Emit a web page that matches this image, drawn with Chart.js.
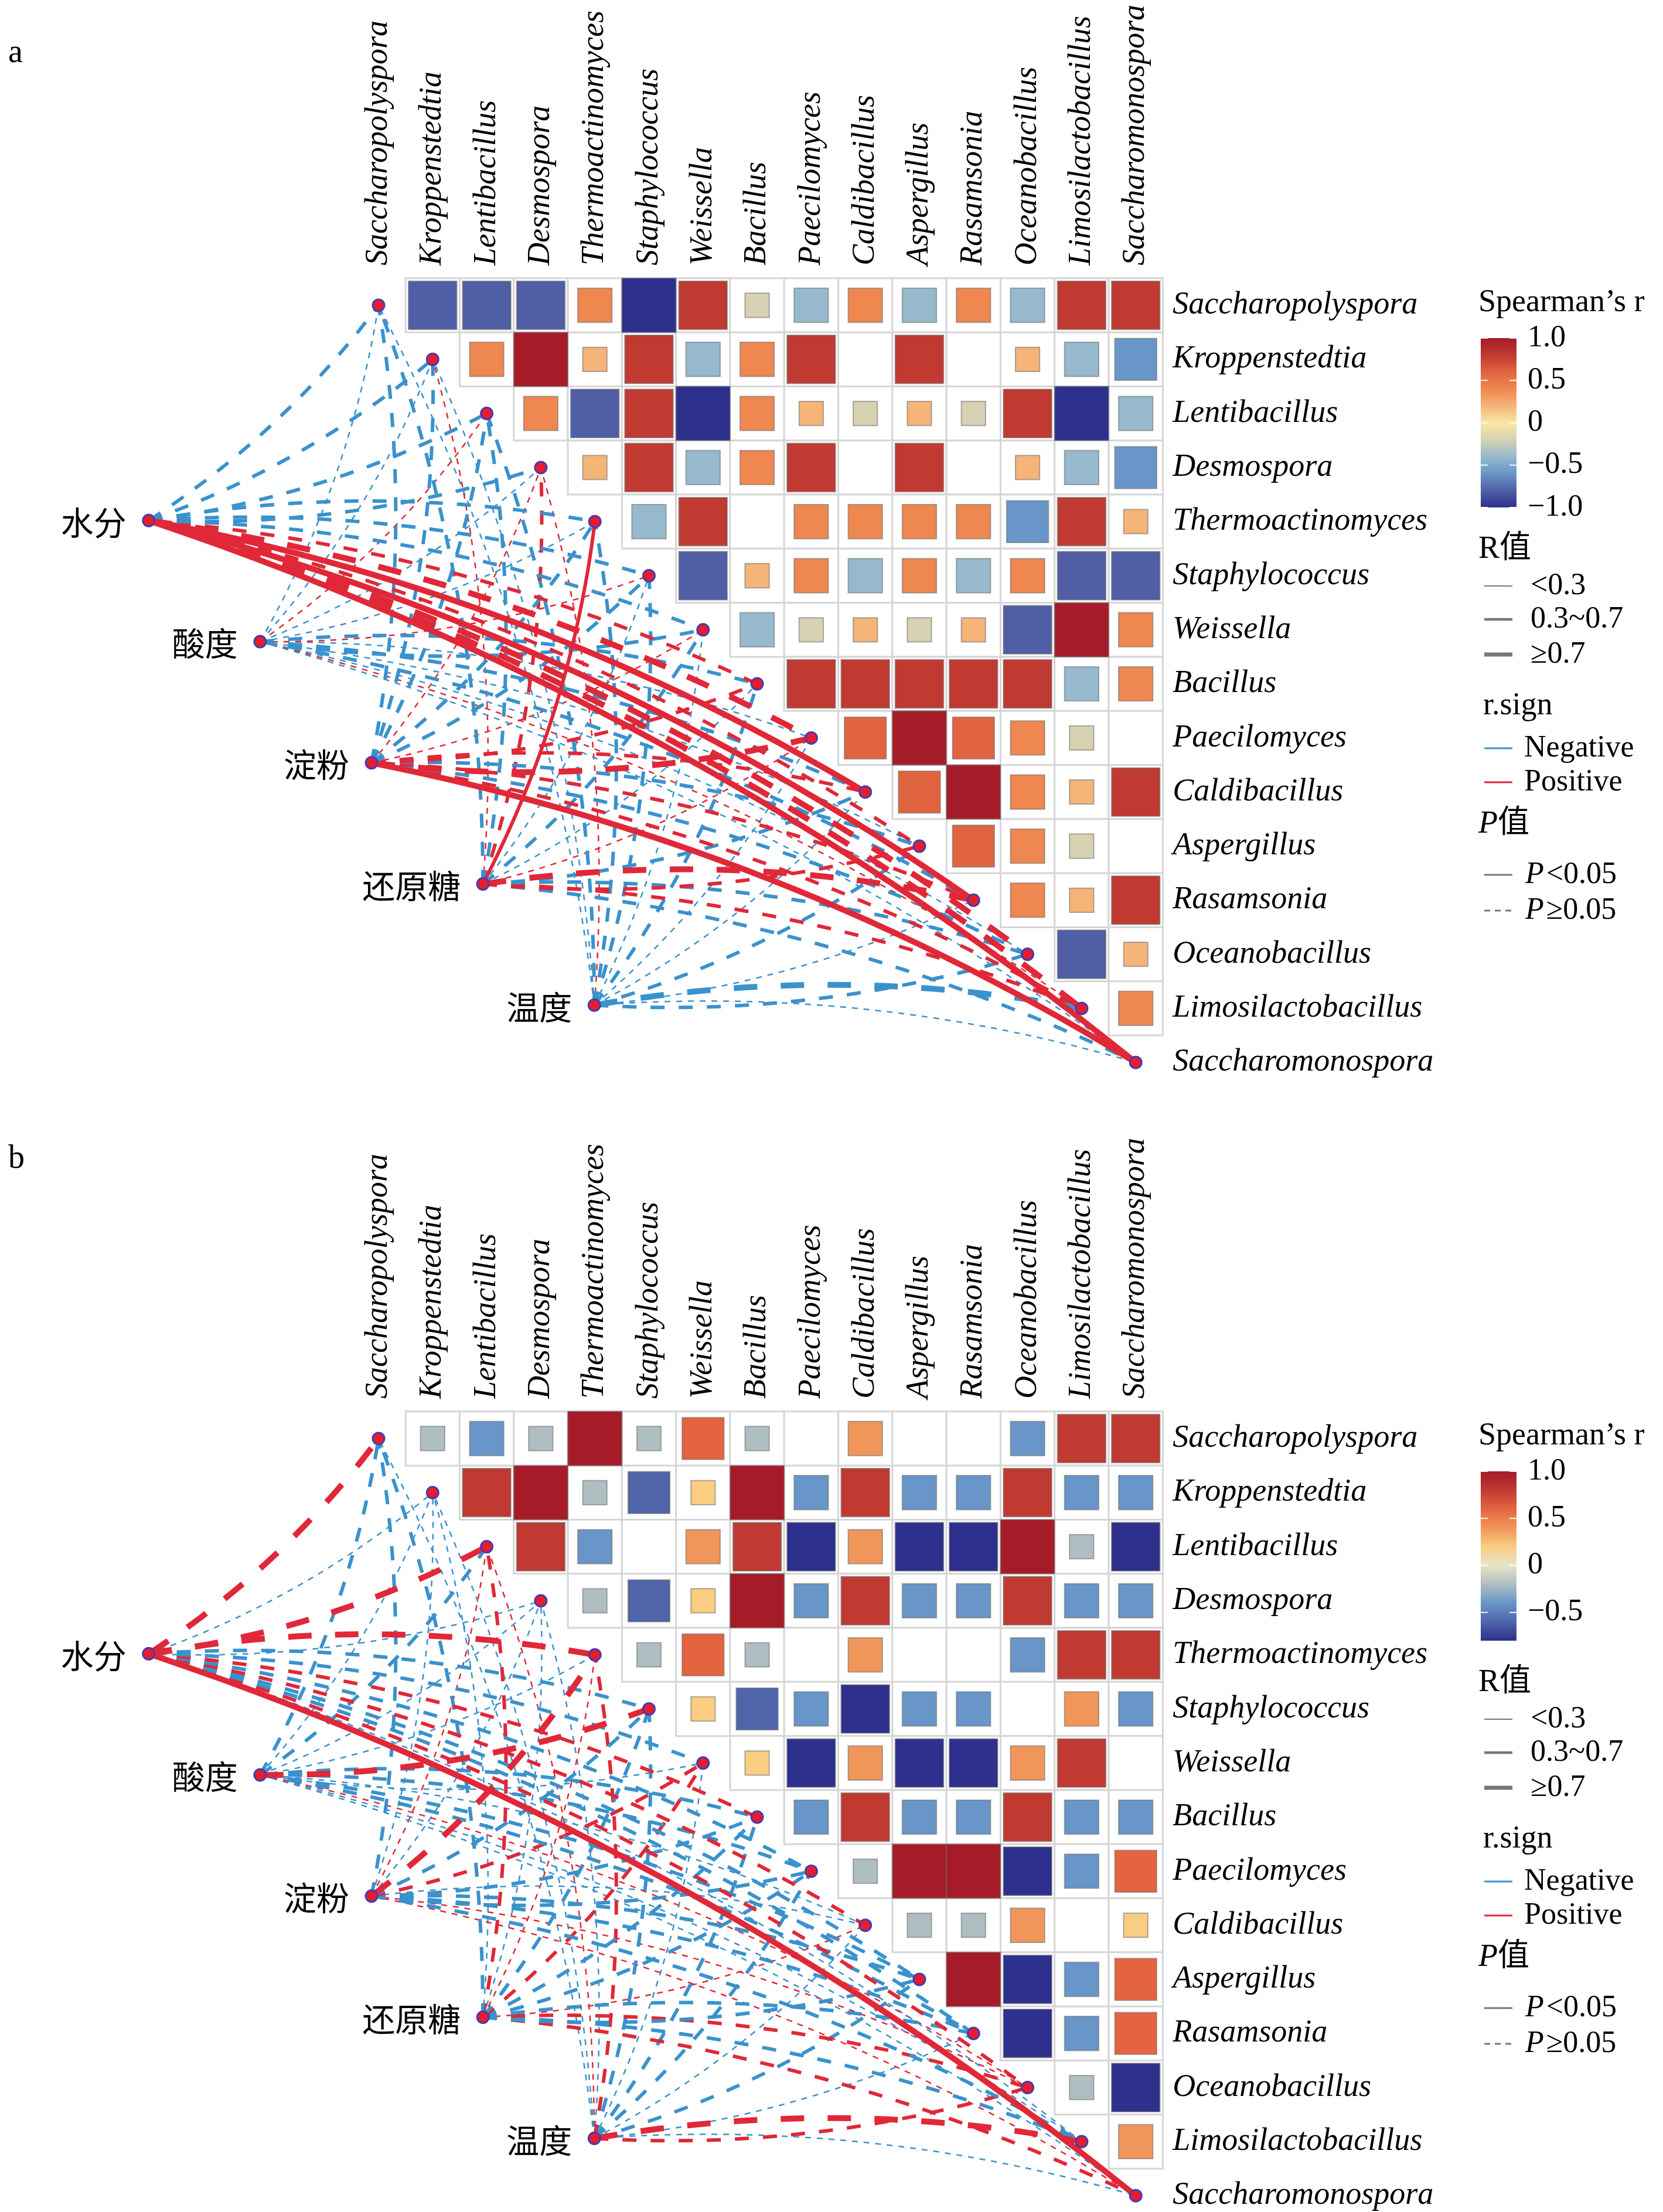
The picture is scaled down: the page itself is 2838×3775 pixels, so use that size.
<!DOCTYPE html>
<html>
<head>
<meta charset="utf-8">
<script src="https://cdn.jsdelivr.net/npm/chart.js@4.4.0/dist/chart.umd.min.js"></script>
<style>
  html, body { margin: 0; padding: 0; background: #fff; }
  canvas { display: block; }
</style>
</head>
<body>
<canvas id="panel-a" width="2838" height="1934"></canvas>
<canvas id="panel-b" width="2838" height="1841"></canvas>
<script>
// species, same order on both axes of the heatmap
var species = ['Saccharopolyspora', 'Kroppenstedtia', 'Lentibacillus', 'Desmospora', 'Thermoactinomyces',
    'Staphylococcus', 'Weissella', 'Bacillus', 'Paecilomyces', 'Caldibacillus', 'Aspergillus',
    'Rasamsonia', 'Oceanobacillus', 'Limosilactobacillus', 'Saccharomonospora'];
// environmental factors (left nodes)
var envFactors = ['水分', '酸度', '淀粉', '还原糖', '温度'];

// Spearman r, upper triangle: row i holds the columns i+1 .. 15
var corrA = [
    [-0.8, -0.8, -0.8, 0.4, -1.0, 0.8, -0.2, -0.4, 0.4, -0.4, 0.4, -0.4, 0.8, 0.8],
    [0.4, 1.0, 0.2, 0.8, -0.4, 0.4, 0.8, 0, 0.8, 0, 0.2, -0.4, -0.6],
    [0.4, -0.8, 0.8, -1.0, 0.4, 0.2, -0.2, 0.2, -0.2, 0.8, -1.0, -0.4],
    [0.2, 0.8, -0.4, 0.4, 0.8, 0, 0.8, 0, 0.2, -0.4, -0.6],
    [-0.4, 0.8, 0, 0.4, 0.4, 0.4, 0.4, -0.6, 0.8, 0.2],
    [-0.8, 0.2, 0.4, -0.4, 0.4, -0.4, 0.4, -0.8, -0.8],
    [-0.4, -0.2, 0.2, -0.2, 0.2, -0.8, 1.0, 0.4],
    [0.8, 0.8, 0.8, 0.8, 0.8, -0.4, 0.4],
    [0.6, 1.0, 0.6, 0.4, -0.2, 0],
    [0.6, 1.0, 0.4, 0.2, 0.8],
    [0.6, 0.4, -0.2, 0],
    [0.4, 0.2, 0.8],
    [-0.8, 0.2],
    [0.4]
];
var corrB = [
    [-0.2, -0.4, -0.2, 1.0, -0.2, 0.6, -0.2, 0, 0.4, 0, 0, -0.4, 0.8, 0.8],
    [0.8, 1.0, -0.2, -0.6, 0.2, 1.0, -0.4, 0.8, -0.4, -0.4, 0.8, -0.4, -0.4],
    [0.8, -0.4, 0, 0.4, 0.8, -0.8, 0.4, -0.8, -0.8, 1.0, -0.2, -0.8],
    [-0.2, -0.6, 0.2, 1.0, -0.4, 0.8, -0.4, -0.4, 0.8, -0.4, -0.4],
    [-0.2, 0.6, -0.2, 0, 0.4, 0, 0, -0.4, 0.8, 0.8],
    [0.2, -0.6, -0.4, -0.8, -0.4, -0.4, 0, 0.4, -0.4],
    [0.2, -0.8, 0.4, -0.8, -0.8, 0.4, 0.8, 0],
    [-0.4, 0.8, -0.4, -0.4, 0.8, -0.4, -0.4],
    [-0.2, 1.0, 1.0, -0.8, -0.4, 0.6],
    [-0.2, -0.2, 0.4, 0, 0.2],
    [1.0, -0.8, -0.4, 0.6],
    [-0.8, -0.4, 0.6],
    [-0.2, -0.8],
    [0.4]
];

// Mantel r (signed) and p, one row per environmental factor, one column per species
var mantelRA = [
    [-0.5, -0.5, -0.5, -0.5, -0.5, -0.5, -0.5, 0.5, 0.8, 0.8, 0.5, 0.8, 0.8, 0.8, 0.8],
    [-0.2, -0.2, 0.2, -0.2, -0.2, 0.2, -0.5, -0.5, -0.2, -0.5, -0.2, -0.5, -0.2, 0.2, -0.2],
    [-0.5, -0.5, -0.5, 0.2, -0.5, -0.5, 0.2, 0.5, 0.8, 0.5, -0.5, 0.5, -0.5, 0.5, 0.8],
    [-0.5, 0.2, -0.5, 0.5, 0.5, -0.2, -0.5, -0.2, 0.2, -0.5, 0.5, 0.8, -0.5, 0.5, -0.5],
    [-0.2, -0.2, -0.5, 0.2, -0.5, -0.5, -0.2, -0.5, -0.2, -0.2, -0.5, -0.2, -0.5, -0.8, -0.2]
];
var mantelPA = [
    [0.2, 0.2, 0.2, 0.2, 0.2, 0.2, 0.2, 0.2, 0.2, 0.01, 0.2, 0.01, 0.2, 0.2, 0.01],
    [0.2, 0.2, 0.2, 0.2, 0.2, 0.2, 0.2, 0.2, 0.2, 0.2, 0.2, 0.2, 0.2, 0.2, 0.2],
    [0.2, 0.2, 0.2, 0.2, 0.2, 0.2, 0.2, 0.2, 0.2, 0.2, 0.2, 0.2, 0.2, 0.2, 0.01],
    [0.2, 0.2, 0.2, 0.2, 0.01, 0.2, 0.2, 0.2, 0.2, 0.2, 0.2, 0.2, 0.2, 0.2, 0.2],
    [0.2, 0.2, 0.2, 0.2, 0.2, 0.2, 0.2, 0.2, 0.2, 0.2, 0.2, 0.2, 0.2, 0.2, 0.2]
];
var mantelRB = [
    [0.8, -0.2, 0.8, -0.2, 0.8, -0.5, -0.5, 0.5, -0.5, 0.5, -0.5, -0.5, 0.5, -0.2, 0.8],
    [-0.5, -0.2, -0.5, -0.2, -0.2, 0.8, -0.2, -0.5, -0.5, -0.2, -0.5, -0.5, 0.2, -0.2, -0.2],
    [-0.5, -0.2, 0.2, -0.2, 0.8, -0.5, 0.5, -0.5, -0.5, -0.2, -0.5, -0.5, 0.2, -0.5, 0.2],
    [-0.5, -0.2, 0.5, -0.2, 0.2, -0.5, 0.5, -0.5, -0.5, 0.2, -0.5, -0.5, 0.5, -0.5, 0.5],
    [-0.2, -0.2, 0.2, -0.2, 0.5, -0.5, -0.2, -0.5, -0.5, -0.2, -0.5, -0.2, 0.5, 0.8, -0.2]
];
var mantelPB = [
    [0.2, 0.2, 0.2, 0.2, 0.2, 0.2, 0.2, 0.2, 0.2, 0.2, 0.2, 0.2, 0.2, 0.2, 0.01],
    [0.2, 0.2, 0.2, 0.2, 0.2, 0.2, 0.2, 0.2, 0.2, 0.2, 0.2, 0.2, 0.2, 0.2, 0.2],
    [0.2, 0.2, 0.2, 0.2, 0.2, 0.2, 0.2, 0.2, 0.2, 0.2, 0.2, 0.2, 0.2, 0.2, 0.2],
    [0.2, 0.2, 0.2, 0.2, 0.2, 0.2, 0.2, 0.2, 0.2, 0.2, 0.2, 0.2, 0.2, 0.2, 0.2],
    [0.2, 0.2, 0.2, 0.2, 0.2, 0.2, 0.2, 0.2, 0.2, 0.2, 0.2, 0.2, 0.2, 0.2, 0.2]
];

// colour bar ticks
var tickValuesA = [1.0, 0.5, 0, -0.5, -1.0];
var tickLabelsA = ['1.0', '0.5', '0', '\u22120.5', '\u22121.0'];
var tickValuesB = [1.0, 0.5, 0, -0.5];
var tickLabelsB = ['1.0', '0.5', '0', '\u22120.5'];
var rangeA = [-1.0, 1.0];
var rangeB = [-0.8, 1.0];

// palette stops (r -> rgb)
var paletteA = [
    [1.0, [165, 28, 40]], [0.8, [192, 58, 50]], [0.6, [225, 100, 65]], [0.4, [238, 135, 80]],
    [0.2, [245, 180, 120]], [0.0, [250, 230, 165]], [-0.2, [214, 210, 178]], [-0.4, [150, 185, 205]],
    [-0.6, [105, 150, 200]], [-0.8, [80, 95, 165]], [-1.0, [45, 48, 140]]
];
var paletteB = [
    [1.0, [165, 28, 40]], [0.8, [192, 58, 50]], [0.6, [228, 100, 65]], [0.4, [240, 150, 90]],
    [0.2, [250, 205, 130]], [0.0, [232, 228, 200]], [-0.2, [175, 190, 192]], [-0.4, [105, 150, 200]],
    [-0.6, [80, 100, 170]], [-0.8, [45, 48, 140]]
];

// layout, in canvas pixels
var CELL = 92.3, COL1 = 646, ROW1 = 521;
var RED = 'rgb(224,40,56)', BLUE = 'rgb(58,146,204)';
var SERIF = '"Liberation Serif", "Noto Sans CJK SC", serif';

function rgb(c) {
    return 'rgb(' + c[0] + ',' + c[1] + ',' + c[2] + ')';
}

// linear interpolation between palette stops
function colourFor(r, palette) {
    if (r >= palette[0][0]) return rgb(palette[0][1]);
    for (var k = 0; k < palette.length - 1; k++) {
        var hi = palette[k], lo = palette[k + 1];
        if (r <= hi[0] && r >= lo[0]) {
            var t = (hi[0] - r) / (hi[0] - lo[0]);
            return rgb([0, 1, 2].map(function(c) {
                return Math.round(hi[1][c] + (lo[1][c] - hi[1][c]) * t);
            }));
        }
    }
    return rgb(palette[palette.length - 1][1]);
}

// position of the environmental nodes in grid units
function envPos(k) {
    return { x: -3.25 + 2.06 * k, y: 4.98 + 2.24 * k };
}

// curved link: quadratic bezier, bowing toward the heatmap
function curvePoints(x0, y0, x1, y1) {
    var dx = x1 - x0, dy = y1 - y0;
    var len = Math.sqrt(dx * dx + dy * dy);
    var nx, ny;
    if (dy >= 0) { nx = dy / len; ny = -dx / len; } else { nx = -dy / len; ny = dx / len; }
    var bend = 0.09 * len;
    var cx = (x0 + x1) / 2 + nx * bend, cy = (y0 + y1) / 2 + ny * bend;
    var pts = [];
    for (var s = 0; s <= 30; s++) {
        var t = s / 30, u = 1 - t;
        pts.push({ x: u * u * x0 + 2 * u * t * cx + t * t * x1, y: u * u * y0 + 2 * u * t * cy + t * t * y1 });
    }
    return pts;
}

function widthFor(R) {
    var a = Math.abs(R);
    return a < 0.3 ? 2.5 : (a < 0.7 ? 6 : 10);
}

function buildPanel(canvasId, corr, mantelR, mantelP, palette, range, tickValues, tickLabels, letter, letterY) {
    var canvas = document.getElementById(canvasId);
    var W = canvas.width, H = canvas.height;
    var xMin = 1 - COL1 / CELL, yMin = 1 - ROW1 / CELL;

    // heatmap cells and squares
    var cells = [], squares = [];
    corr.forEach(function(row, i) {
        row.forEach(function(r, k) {
            var j = i + 1 + k;
            cells.push({ x: j + 1, y: i + 1 });
            if (r !== 0) squares.push({ x: j + 1, y: i + 1, r: r });
        });
    });

    // links from the environmental factors to each species
    var links = [];
    mantelR.forEach(function(row, k) {
        var p0 = envPos(k);
        row.forEach(function(R, s) {
            var w = widthFor(R);
            var solid = mantelP[k][s] < 0.05;
            links.push({
                pts: curvePoints(p0.x, p0.y, s + 1, s + 1),
                color: R < 0 ? BLUE : RED,
                width: w,
                solid: solid,
                dash: solid ? [] : [4 * w, 4 * w]
            });
        });
    });
    links.sort(function(a, b) { return (b.width - a.width) || (b.solid - a.solid); });

    var datasets = [];
    datasets.push({
        data: species.map(function(s, i) { return { x: i + 1, y: i + 1 }; }),
        pointStyle: 'circle', pointRadius: 10, pointBackgroundColor: 'rgb(232,28,44)',
        pointBorderColor: 'rgb(70,60,175)', pointBorderWidth: 3, order: 1
    });
    datasets.push({
        data: envFactors.map(function(e, k) { return envPos(k); }),
        pointStyle: 'circle', pointRadius: 10, pointBackgroundColor: 'rgb(232,28,44)',
        pointBorderColor: 'rgb(70,60,175)', pointBorderWidth: 3, order: 1
    });
    links.forEach(function(l) {
        datasets.push({
            data: l.pts, showLine: true, pointRadius: 0, borderColor: l.color,
            borderWidth: l.width, borderDash: l.dash, borderCapStyle: 'butt', order: 20
        });
    });
    datasets.push({
        data: squares, pointStyle: 'rect',
        pointRadius: function(ctx) { return Math.sqrt(Math.abs(ctx.raw.r)) * CELL / Math.SQRT2; },
        pointBackgroundColor: function(ctx) { return colourFor(ctx.raw.r, palette); },
        pointBorderColor: 'rgba(110,110,110,0.55)', pointBorderWidth: 2, order: 30
    });
    datasets.push({
        data: cells, pointStyle: 'rect', pointRadius: CELL / Math.SQRT2,
        pointBackgroundColor: '#ffffff', pointBorderColor: 'rgb(214,214,214)', pointBorderWidth: 3, order: 40
    });

    // texts and legend
    var labelsPlugin = {
        id: 'labels',
        afterDraw: function(chart) {
            var ctx = chart.ctx, xs = chart.scales.x, ys = chart.scales.y;
            ctx.save();
            ctx.fillStyle = '#000';

            // panel letter
            ctx.font = '56px ' + SERIF;
            ctx.textAlign = 'left';
            ctx.textBaseline = 'middle';
            ctx.fillText(letter, 14, letterY);

            // column labels
            ctx.font = 'italic 54px ' + SERIF;
            species.forEach(function(s, i) {
                ctx.save();
                ctx.translate(xs.getPixelForValue(i + 1), ys.getPixelForValue(1) - 68);
                ctx.rotate(-Math.PI / 2);
                ctx.textAlign = 'left';
                ctx.textBaseline = 'middle';
                ctx.fillText(s, 0, 0);
                ctx.restore();
            });
            // row labels
            var rowX = xs.getPixelForValue(species.length) + 63;
            species.forEach(function(s, i) {
                ctx.textAlign = 'left';
                ctx.textBaseline = 'middle';
                ctx.fillText(s, rowX, ys.getPixelForValue(i + 1));
            });
            // environmental factor labels
            ctx.font = '56px "Noto Sans CJK SC", sans-serif';
            ctx.textAlign = 'right';
            envFactors.forEach(function(e, k) {
                var p = envPos(k);
                ctx.fillText(e, xs.getPixelForValue(p.x) - 38, ys.getPixelForValue(p.y) + 3);
            });

            // legend: colour bar
            ctx.textAlign = 'left';
            ctx.font = '54px ' + SERIF;
            ctx.fillText('Spearman\u2019s r', 2523, 517);
            var barL = 2527, barR = 2588, barT = 577, barB = 866;
            var grad = ctx.createLinearGradient(0, barT, 0, barB);
            palette.forEach(function(stop) {
                var f = (range[1] - stop[0]) / (range[1] - range[0]);
                if (f >= 0 && f <= 1) grad.addColorStop(f, rgb(stop[1]));
            });
            ctx.fillStyle = grad;
            ctx.fillRect(barL, barT, barR - barL, barB - barT);
            ctx.fillStyle = '#000';
            ctx.font = '52px ' + SERIF;
            tickValues.forEach(function(t, i) {
                var y = barT + (range[1] - t) / (range[1] - range[0]) * (barB - barT);
                ctx.strokeStyle = 'rgba(255,255,255,0.9)';
                ctx.lineWidth = 2;
                ctx.beginPath();
                ctx.moveTo(barL, y); ctx.lineTo(barL + 12, y);
                ctx.moveTo(barR - 12, y); ctx.lineTo(barR, y);
                ctx.stroke();
                ctx.fillText(tickLabels[i], 2607, y);
            });

            // legend: R value widths
            ctx.font = '54px ' + SERIF;
            ctx.fillText('R值', 2523, 938);
            var rItems = [['<0.3', 1000, 2], ['0.3~0.7', 1057, 4.5], ['\u22650.7', 1117, 7]];
            ctx.font = '52px ' + SERIF;
            rItems.forEach(function(it) {
                ctx.strokeStyle = 'rgb(120,120,120)';
                ctx.lineWidth = it[2];
                ctx.beginPath(); ctx.moveTo(2533, it[1]); ctx.lineTo(2581, it[1]); ctx.stroke();
                ctx.fillText(it[0], 2612, it[1]);
            });

            // legend: sign
            ctx.font = '54px ' + SERIF;
            ctx.fillText('r.sign', 2531, 1205);
            ctx.font = '52px ' + SERIF;
            [['Negative', 1277, BLUE], ['Positive', 1335, RED]].forEach(function(it) {
                ctx.strokeStyle = it[2];
                ctx.lineWidth = 3;
                ctx.beginPath(); ctx.moveTo(2533, it[1]); ctx.lineTo(2581, it[1]); ctx.stroke();
                ctx.fillText(it[0], 2601, it[1]);
            });

            // legend: P value line type
            ctx.font = 'italic 54px ' + SERIF;
            ctx.fillText('P', 2523, 1407);
            var pw = ctx.measureText('P').width;
            ctx.font = '54px ' + SERIF;
            ctx.fillText('值', 2523 + pw, 1407);
            [['<0.05', 1493, []], ['\u22650.05', 1554, [10, 8]]].forEach(function(it) {
                ctx.strokeStyle = 'rgb(120,120,120)';
                ctx.lineWidth = 3;
                ctx.setLineDash(it[2]);
                ctx.beginPath(); ctx.moveTo(2533, it[1]); ctx.lineTo(2581, it[1]); ctx.stroke();
                ctx.setLineDash([]);
                ctx.font = 'italic 52px ' + SERIF;
                ctx.fillText('P', 2603, it[1]);
                var w = ctx.measureText('P').width;
                ctx.font = '52px ' + SERIF;
                ctx.fillText(it[0], 2603 + w + 4, it[1]);
            });
            ctx.restore();
        }
    };

    return new Chart(canvas.getContext('2d'), {
        type: 'scatter',
        data: { datasets: datasets },
        options: {
            responsive: false,
            animation: false,
            devicePixelRatio: 1,
            events: [],
            layout: { padding: 0, autoPadding: false },
            plugins: { legend: { display: false }, tooltip: { enabled: false } },
            scales: {
                x: { type: 'linear', min: xMin, max: xMin + W / CELL, display: false },
                y: { type: 'linear', reverse: true, min: yMin, max: yMin + H / CELL, display: false }
            }
        },
        plugins: [labelsPlugin]
    });
}

buildPanel('panel-a', corrA, mantelRA, mantelPA, paletteA, rangeA, tickValuesA, tickLabelsA, 'a', 91);
buildPanel('panel-b', corrB, mantelRB, mantelPB, paletteB, rangeB, tickValuesB, tickLabelsB, 'b', 44);
</script>
</body>
</html>
